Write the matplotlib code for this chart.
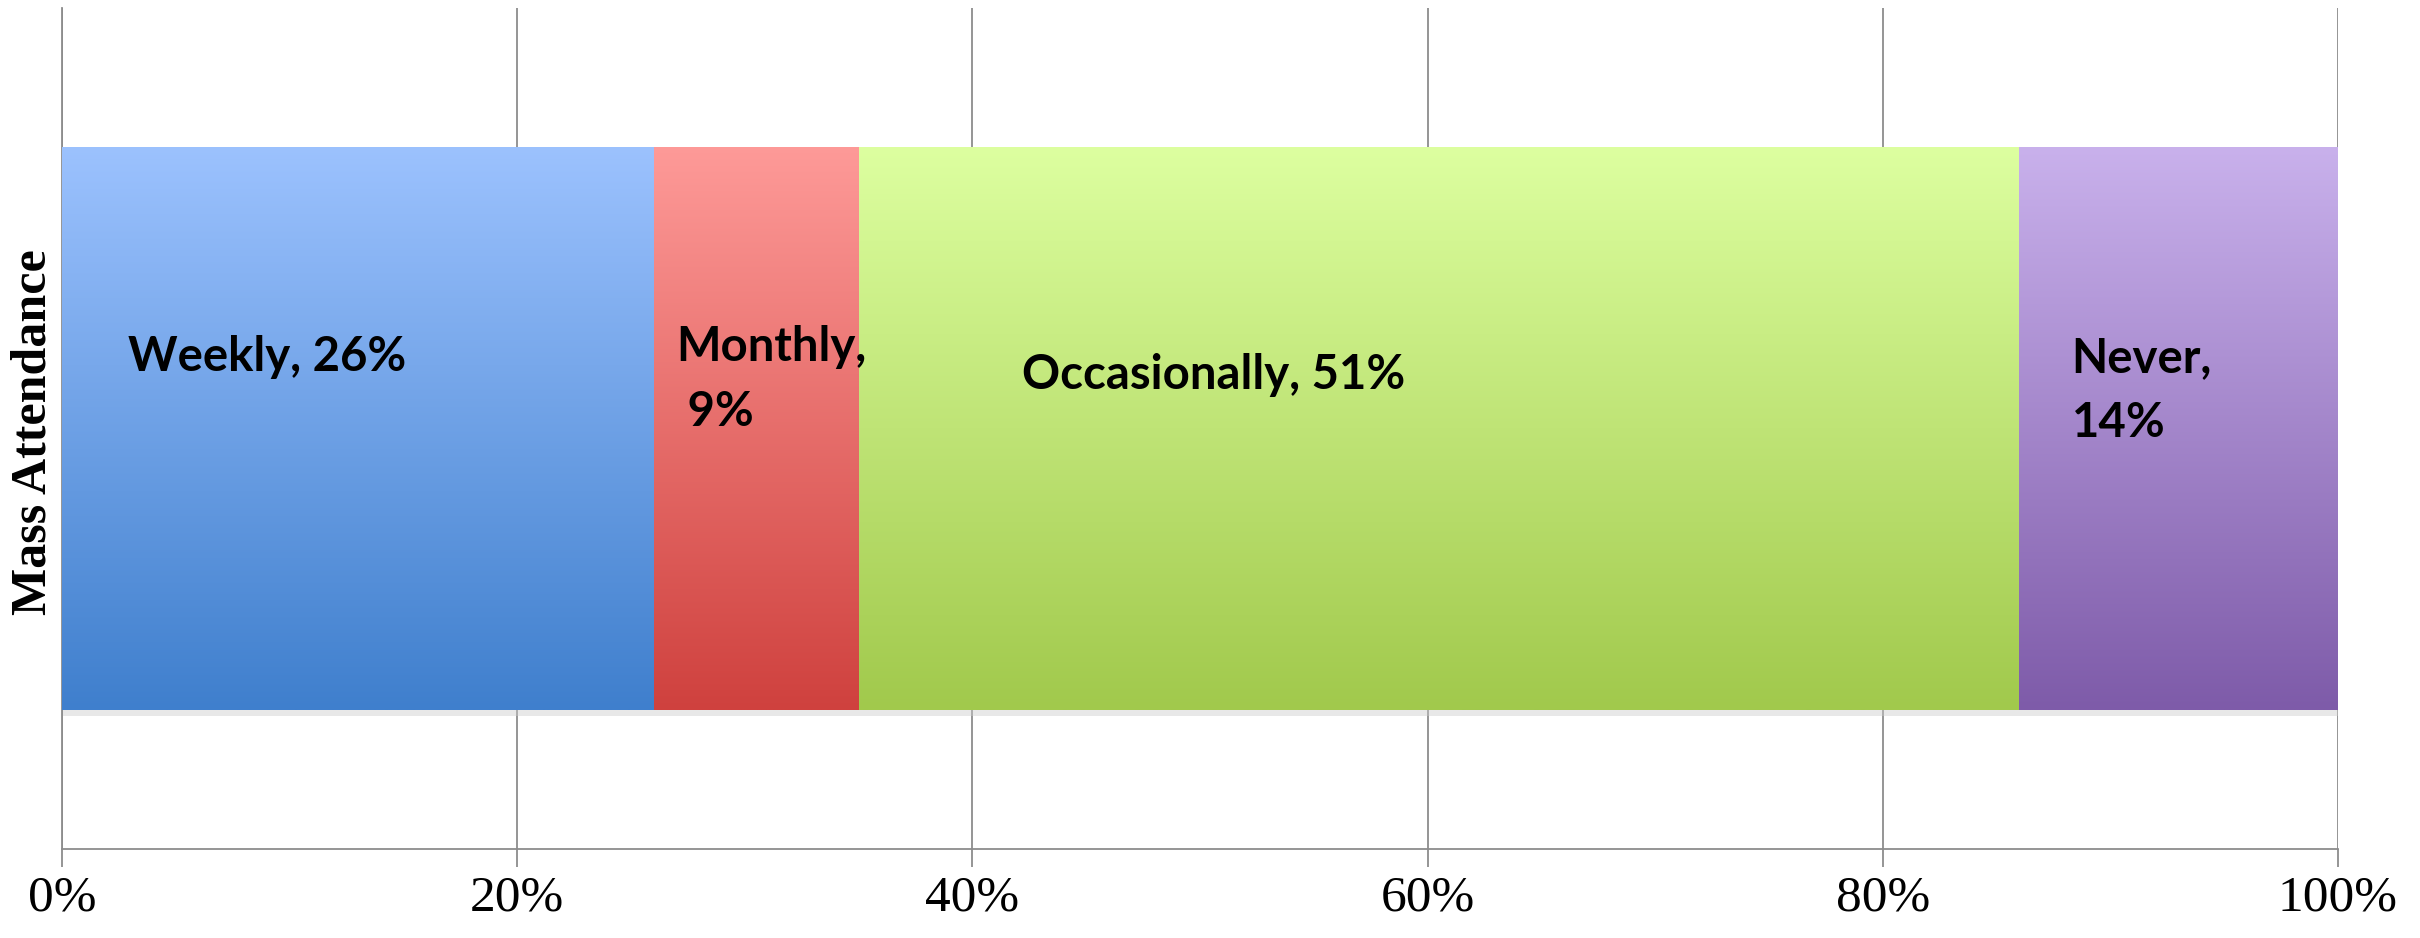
import numpy as np
import matplotlib
matplotlib.use("Agg")
import matplotlib.pyplot as plt
import matplotlib.patheffects as pe
from matplotlib.colors import LinearSegmentedColormap

# ---- data ----
row_label = "Mass Attendance"
categories = ["Weekly", "Monthly", "Occasionally", "Never"]
values = [26, 9, 51, 14]
label_texts = ["Weekly, 26%", "Monthly,\n 9%", "Occasionally, 51%", "Never,\n14%"]
xticks = [0, 20, 40, 60, 80, 100]
xtick_labels = ["0%", "20%", "40%", "60%", "80%", "100%"]

# ---- style ----
top_colors = ["#9CC2FE", "#FE9A98", "#DDFFA0", "#C9B1EC"]
bottom_colors = ["#3F7FCD", "#CF413E", "#A1C94C", "#7E5BA9"]
# label anchor positions (x in data units, y in data units)
label_pos = [(2.9, 0.085), (27.0, 0.058), (42.2, 0.064), (88.3, 0.045)]

fig = plt.figure(figsize=(24.2, 9.38), dpi=100)
ax = fig.add_axes([0.0256, 0.0949, 0.9405, 0.8966])

bar_h = 0.67
lefts = np.concatenate([[0], np.cumsum(values)[:-1]])
bars = ax.barh([0] * len(values), values, left=lefts, height=bar_h,
               color=bottom_colors, edgecolor="none", zorder=2)
for b, tc, bc in zip(bars, top_colors, bottom_colors):
    b.set_path_effects([pe.SimplePatchShadow(offset=(0, -4), shadow_rgbFace="#cccccc", alpha=0.45),
                        pe.Normal()])
    cmap = LinearSegmentedColormap.from_list("g", [bc, tc])
    x0, y0 = b.get_x(), b.get_y()
    w, h = b.get_width(), b.get_height()
    grad = np.linspace(0, 1, 256).reshape(-1, 1)
    im = ax.imshow(grad, cmap=cmap, aspect="auto", origin="lower",
                   extent=[x0, x0 + w, y0, y0 + h], zorder=3, interpolation="bilinear")
    im.set_clip_path(b)

ax.set_xlim(0, 100)
ax.set_ylim(-0.5, 0.5)
ax.set_yticks([])
ax.set_xticks(xticks)
ax.set_xticklabels(xtick_labels, fontfamily="Liberation Serif", fontsize=37)
ax.tick_params(axis="x", direction="out", length=13, width=1.3, color="#8c8c8c", pad=6)
ax.grid(axis="x", color="#8c8c8c", linewidth=1.3, zorder=1)
ax.set_axisbelow(True)
for s in ["top", "right"]:
    ax.spines[s].set_visible(False)
for s in ["left", "bottom"]:
    ax.spines[s].set_color("#8c8c8c")
    ax.spines[s].set_linewidth(1.3)

for (lx, ly), t in zip(label_pos, label_texts):
    ax.text(lx, ly, t, fontfamily="Lato", fontweight="bold", fontsize=34,
            ha="left", va="center", color="black", zorder=5, linespacing=1.6)

fig.text(34 / 2420, 0.539, row_label, rotation=90, ha="center", va="center",
         fontfamily="Liberation Serif", fontweight="bold", fontsize=36)

fig.savefig("out.png", dpi=100)
